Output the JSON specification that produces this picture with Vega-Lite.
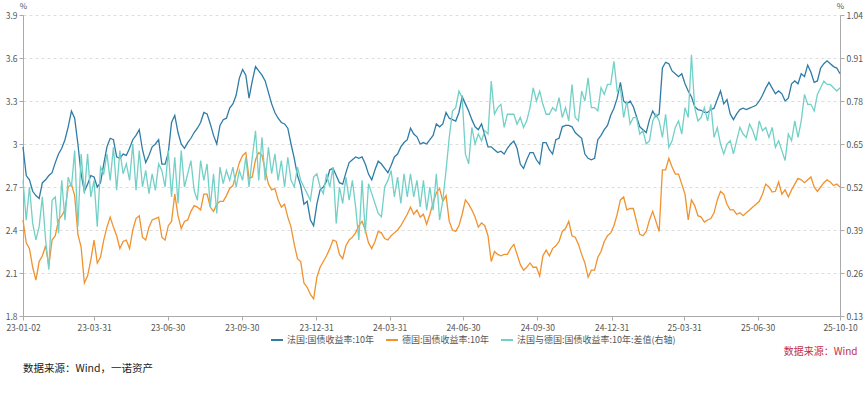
{
"$schema":"https://vega.github.io/schema/vega-lite/v6.json",
"width":817,"height":301,
"autosize":{"type":"none"},
"padding":{"left":23,"top":15,"right":25,"bottom":77},
"background":"#ffffff",
"config":{"view":{"stroke":null},"font":"Noto Sans CJK SC"},
"title":{"text":"数据来源：Wind，一诺资产","orient":"bottom","anchor":"start","fontSize":10.5,"fontWeight":"normal","color":"#222222","offset":8,"frame":"group"},
"datasets":{"d":[
{"date":"2023-01-02","fr":2.98,"de":2.47,"sp":0.54},
{"date":"2023-01-06","fr":2.78,"de":2.31,"sp":0.42},
{"date":"2023-01-10","fr":2.75,"de":2.27,"sp":0.52},
{"date":"2023-01-14","fr":2.67,"de":2.14,"sp":0.41},
{"date":"2023-01-18","fr":2.64,"de":2.05,"sp":0.36},
{"date":"2023-01-22","fr":2.62,"de":2.18,"sp":0.40},
{"date":"2023-01-26","fr":2.73,"de":2.22,"sp":0.49},
{"date":"2023-01-30","fr":2.75,"de":2.29,"sp":0.36},
{"date":"2023-02-03","fr":2.78,"de":2.15,"sp":0.27},
{"date":"2023-02-07","fr":2.80,"de":2.33,"sp":0.48},
{"date":"2023-02-11","fr":2.87,"de":2.36,"sp":0.49},
{"date":"2023-02-15","fr":2.93,"de":2.47,"sp":0.38},
{"date":"2023-02-19","fr":2.97,"de":2.50,"sp":0.54},
{"date":"2023-02-23","fr":3.03,"de":2.54,"sp":0.42},
{"date":"2023-02-27","fr":3.12,"de":2.70,"sp":0.55},
{"date":"2023-03-03","fr":3.23,"de":2.72,"sp":0.52},
{"date":"2023-03-07","fr":3.18,"de":2.64,"sp":0.63},
{"date":"2023-03-11","fr":3.00,"de":2.37,"sp":0.40},
{"date":"2023-03-15","fr":2.79,"de":2.28,"sp":0.62},
{"date":"2023-03-19","fr":2.67,"de":2.03,"sp":0.50},
{"date":"2023-03-23","fr":2.72,"de":2.08,"sp":0.62},
{"date":"2023-03-27","fr":2.78,"de":2.19,"sp":0.49},
{"date":"2023-03-31","fr":2.77,"de":2.33,"sp":0.54},
{"date":"2023-04-04","fr":2.70,"de":2.17,"sp":0.40},
{"date":"2023-04-08","fr":2.73,"de":2.21,"sp":0.58},
{"date":"2023-04-12","fr":2.86,"de":2.33,"sp":0.56},
{"date":"2023-04-16","fr":2.98,"de":2.42,"sp":0.62},
{"date":"2023-04-20","fr":3.04,"de":2.49,"sp":0.54},
{"date":"2023-04-24","fr":3.03,"de":2.42,"sp":0.64},
{"date":"2023-04-28","fr":2.91,"de":2.36,"sp":0.51},
{"date":"2023-05-02","fr":2.90,"de":2.27,"sp":0.63},
{"date":"2023-05-06","fr":2.93,"de":2.32,"sp":0.56},
{"date":"2023-05-10","fr":2.92,"de":2.33,"sp":0.59},
{"date":"2023-05-14","fr":2.97,"de":2.27,"sp":0.54},
{"date":"2023-05-18","fr":3.03,"de":2.40,"sp":0.65},
{"date":"2023-05-22","fr":3.06,"de":2.48,"sp":0.51},
{"date":"2023-05-26","fr":3.10,"de":2.50,"sp":0.63},
{"date":"2023-05-30","fr":2.96,"de":2.35,"sp":0.52},
{"date":"2023-06-03","fr":2.87,"de":2.33,"sp":0.57},
{"date":"2023-06-07","fr":2.92,"de":2.42,"sp":0.50},
{"date":"2023-06-11","fr":2.98,"de":2.47,"sp":0.56},
{"date":"2023-06-15","fr":3.00,"de":2.48,"sp":0.51},
{"date":"2023-06-19","fr":3.03,"de":2.49,"sp":0.59},
{"date":"2023-06-23","fr":2.86,"de":2.35,"sp":0.57},
{"date":"2023-06-27","fr":2.86,"de":2.33,"sp":0.52},
{"date":"2023-07-01","fr":2.94,"de":2.43,"sp":0.63},
{"date":"2023-07-05","fr":3.15,"de":2.46,"sp":0.49},
{"date":"2023-07-09","fr":3.20,"de":2.65,"sp":0.61},
{"date":"2023-07-13","fr":3.08,"de":2.50,"sp":0.47},
{"date":"2023-07-17","fr":3.00,"de":2.41,"sp":0.63},
{"date":"2023-07-21","fr":2.97,"de":2.46,"sp":0.52},
{"date":"2023-07-25","fr":3.01,"de":2.47,"sp":0.56},
{"date":"2023-07-29","fr":3.04,"de":2.53,"sp":0.60},
{"date":"2023-08-02","fr":3.08,"de":2.57,"sp":0.51},
{"date":"2023-08-06","fr":3.11,"de":2.56,"sp":0.48},
{"date":"2023-08-10","fr":3.15,"de":2.54,"sp":0.60},
{"date":"2023-08-14","fr":3.22,"de":2.65,"sp":0.54},
{"date":"2023-08-18","fr":3.21,"de":2.65,"sp":0.59},
{"date":"2023-08-22","fr":3.14,"de":2.56,"sp":0.46},
{"date":"2023-08-26","fr":3.06,"de":2.53,"sp":0.56},
{"date":"2023-08-30","fr":3.00,"de":2.58,"sp":0.44},
{"date":"2023-09-03","fr":3.13,"de":2.60,"sp":0.58},
{"date":"2023-09-07","fr":3.17,"de":2.60,"sp":0.53},
{"date":"2023-09-11","fr":3.18,"de":2.64,"sp":0.57},
{"date":"2023-09-15","fr":3.25,"de":2.69,"sp":0.54},
{"date":"2023-09-19","fr":3.28,"de":2.71,"sp":0.58},
{"date":"2023-09-23","fr":3.34,"de":2.79,"sp":0.52},
{"date":"2023-09-27","fr":3.46,"de":2.87,"sp":0.57},
{"date":"2023-10-01","fr":3.52,"de":2.92,"sp":0.54},
{"date":"2023-10-05","fr":3.48,"de":2.94,"sp":0.61},
{"date":"2023-10-09","fr":3.32,"de":2.76,"sp":0.52},
{"date":"2023-10-13","fr":3.44,"de":2.77,"sp":0.61},
{"date":"2023-10-17","fr":3.54,"de":2.89,"sp":0.69},
{"date":"2023-10-21","fr":3.51,"de":2.94,"sp":0.54},
{"date":"2023-10-25","fr":3.48,"de":2.92,"sp":0.67},
{"date":"2023-10-29","fr":3.44,"de":2.82,"sp":0.54},
{"date":"2023-11-02","fr":3.36,"de":2.72,"sp":0.64},
{"date":"2023-11-06","fr":3.28,"de":2.68,"sp":0.56},
{"date":"2023-11-10","fr":3.22,"de":2.69,"sp":0.62},
{"date":"2023-11-14","fr":3.18,"de":2.61,"sp":0.54},
{"date":"2023-11-18","fr":3.15,"de":2.56,"sp":0.60},
{"date":"2023-11-22","fr":3.14,"de":2.58,"sp":0.52},
{"date":"2023-11-26","fr":3.11,"de":2.49,"sp":0.61},
{"date":"2023-11-30","fr":3.00,"de":2.42,"sp":0.54},
{"date":"2023-12-04","fr":2.90,"de":2.30,"sp":0.52},
{"date":"2023-12-08","fr":2.78,"de":2.20,"sp":0.58},
{"date":"2023-12-12","fr":2.71,"de":2.18,"sp":0.54},
{"date":"2023-12-16","fr":2.58,"de":2.03,"sp":0.52},
{"date":"2023-12-20","fr":2.60,"de":2.00,"sp":0.50},
{"date":"2023-12-24","fr":2.47,"de":1.95,"sp":0.48},
{"date":"2023-12-28","fr":2.43,"de":1.92,"sp":0.55},
{"date":"2024-01-01","fr":2.58,"de":2.07,"sp":0.56},
{"date":"2024-01-05","fr":2.68,"de":2.14,"sp":0.52},
{"date":"2024-01-09","fr":2.70,"de":2.18,"sp":0.50},
{"date":"2024-01-13","fr":2.74,"de":2.22,"sp":0.56},
{"date":"2024-01-17","fr":2.82,"de":2.27,"sp":0.52},
{"date":"2024-01-21","fr":2.83,"de":2.33,"sp":0.58},
{"date":"2024-01-25","fr":2.78,"de":2.32,"sp":0.41},
{"date":"2024-01-29","fr":2.73,"de":2.23,"sp":0.52},
{"date":"2024-02-02","fr":2.72,"de":2.20,"sp":0.47},
{"date":"2024-02-06","fr":2.80,"de":2.29,"sp":0.55},
{"date":"2024-02-10","fr":2.87,"de":2.33,"sp":0.48},
{"date":"2024-02-14","fr":2.89,"de":2.35,"sp":0.54},
{"date":"2024-02-18","fr":2.91,"de":2.38,"sp":0.46},
{"date":"2024-02-22","fr":2.90,"de":2.43,"sp":0.36},
{"date":"2024-02-26","fr":2.91,"de":2.46,"sp":0.54},
{"date":"2024-03-01","fr":2.86,"de":2.40,"sp":0.38},
{"date":"2024-03-05","fr":2.79,"de":2.31,"sp":0.53},
{"date":"2024-03-09","fr":2.75,"de":2.27,"sp":0.50},
{"date":"2024-03-13","fr":2.82,"de":2.32,"sp":0.47},
{"date":"2024-03-17","fr":2.88,"de":2.39,"sp":0.44},
{"date":"2024-03-21","fr":2.86,"de":2.38,"sp":0.43},
{"date":"2024-03-25","fr":2.83,"de":2.34,"sp":0.52},
{"date":"2024-03-29","fr":2.80,"de":2.33,"sp":0.54},
{"date":"2024-04-02","fr":2.85,"de":2.36,"sp":0.57},
{"date":"2024-04-06","fr":2.91,"de":2.38,"sp":0.49},
{"date":"2024-04-10","fr":2.93,"de":2.40,"sp":0.55},
{"date":"2024-04-14","fr":2.98,"de":2.43,"sp":0.47},
{"date":"2024-04-18","fr":3.01,"de":2.47,"sp":0.56},
{"date":"2024-04-22","fr":3.03,"de":2.51,"sp":0.49},
{"date":"2024-04-26","fr":3.11,"de":2.56,"sp":0.56},
{"date":"2024-04-30","fr":3.07,"de":2.51,"sp":0.49},
{"date":"2024-05-04","fr":3.05,"de":2.54,"sp":0.54},
{"date":"2024-05-08","fr":3.00,"de":2.49,"sp":0.46},
{"date":"2024-05-12","fr":3.01,"de":2.51,"sp":0.54},
{"date":"2024-05-16","fr":3.00,"de":2.44,"sp":0.45},
{"date":"2024-05-20","fr":3.03,"de":2.51,"sp":0.52},
{"date":"2024-05-24","fr":3.06,"de":2.59,"sp":0.45},
{"date":"2024-05-28","fr":3.14,"de":2.66,"sp":0.56},
{"date":"2024-06-01","fr":3.12,"de":2.69,"sp":0.42},
{"date":"2024-06-05","fr":3.14,"de":2.60,"sp":0.48},
{"date":"2024-06-09","fr":3.22,"de":2.64,"sp":0.57},
{"date":"2024-06-13","fr":3.18,"de":2.46,"sp":0.67},
{"date":"2024-06-17","fr":3.17,"de":2.40,"sp":0.75},
{"date":"2024-06-21","fr":3.16,"de":2.39,"sp":0.76},
{"date":"2024-06-25","fr":3.22,"de":2.43,"sp":0.81},
{"date":"2024-06-29","fr":3.33,"de":2.51,"sp":0.79},
{"date":"2024-07-03","fr":3.28,"de":2.61,"sp":0.62},
{"date":"2024-07-07","fr":3.23,"de":2.58,"sp":0.59},
{"date":"2024-07-11","fr":3.17,"de":2.54,"sp":0.70},
{"date":"2024-07-15","fr":3.12,"de":2.49,"sp":0.65},
{"date":"2024-07-19","fr":3.10,"de":2.42,"sp":0.68},
{"date":"2024-07-23","fr":3.14,"de":2.45,"sp":0.66},
{"date":"2024-07-27","fr":3.06,"de":2.43,"sp":0.69},
{"date":"2024-07-31","fr":2.98,"de":2.36,"sp":0.68},
{"date":"2024-08-04","fr":2.98,"de":2.18,"sp":0.84},
{"date":"2024-08-08","fr":2.96,"de":2.25,"sp":0.74},
{"date":"2024-08-12","fr":2.94,"de":2.23,"sp":0.76},
{"date":"2024-08-16","fr":2.95,"de":2.22,"sp":0.77},
{"date":"2024-08-20","fr":2.93,"de":2.23,"sp":0.70},
{"date":"2024-08-24","fr":2.97,"de":2.23,"sp":0.74},
{"date":"2024-08-28","fr":3.00,"de":2.27,"sp":0.74},
{"date":"2024-09-01","fr":3.02,"de":2.30,"sp":0.74},
{"date":"2024-09-05","fr":2.97,"de":2.23,"sp":0.71},
{"date":"2024-09-09","fr":2.86,"de":2.16,"sp":0.73},
{"date":"2024-09-13","fr":2.83,"de":2.12,"sp":0.70},
{"date":"2024-09-17","fr":2.89,"de":2.14,"sp":0.72},
{"date":"2024-09-21","fr":2.94,"de":2.17,"sp":0.76},
{"date":"2024-09-25","fr":2.94,"de":2.14,"sp":0.82},
{"date":"2024-09-29","fr":2.89,"de":2.14,"sp":0.78},
{"date":"2024-10-03","fr":2.86,"de":2.08,"sp":0.81},
{"date":"2024-10-07","fr":3.01,"de":2.22,"sp":0.77},
{"date":"2024-10-11","fr":3.01,"de":2.26,"sp":0.74},
{"date":"2024-10-15","fr":2.96,"de":2.22,"sp":0.74},
{"date":"2024-10-19","fr":2.93,"de":2.27,"sp":0.76},
{"date":"2024-10-23","fr":3.03,"de":2.29,"sp":0.75},
{"date":"2024-10-27","fr":3.04,"de":2.32,"sp":0.79},
{"date":"2024-10-31","fr":3.12,"de":2.39,"sp":0.73},
{"date":"2024-11-04","fr":3.13,"de":2.41,"sp":0.76},
{"date":"2024-11-08","fr":3.13,"de":2.46,"sp":0.72},
{"date":"2024-11-12","fr":3.12,"de":2.36,"sp":0.83},
{"date":"2024-11-16","fr":3.08,"de":2.35,"sp":0.73},
{"date":"2024-11-20","fr":3.06,"de":2.30,"sp":0.72},
{"date":"2024-11-24","fr":3.04,"de":2.23,"sp":0.81},
{"date":"2024-11-28","fr":2.93,"de":2.17,"sp":0.78},
{"date":"2024-12-02","fr":2.90,"de":2.07,"sp":0.85},
{"date":"2024-12-06","fr":2.89,"de":2.12,"sp":0.76},
{"date":"2024-12-10","fr":2.90,"de":2.12,"sp":0.76},
{"date":"2024-12-14","fr":3.03,"de":2.21,"sp":0.75},
{"date":"2024-12-18","fr":3.06,"de":2.25,"sp":0.82},
{"date":"2024-12-22","fr":3.10,"de":2.32,"sp":0.80},
{"date":"2024-12-26","fr":3.13,"de":2.36,"sp":0.83},
{"date":"2024-12-30","fr":3.20,"de":2.38,"sp":0.83},
{"date":"2025-01-03","fr":3.25,"de":2.43,"sp":0.90},
{"date":"2025-01-07","fr":3.32,"de":2.51,"sp":0.81},
{"date":"2025-01-11","fr":3.43,"de":2.61,"sp":0.82},
{"date":"2025-01-15","fr":3.30,"de":2.63,"sp":0.73},
{"date":"2025-01-19","fr":3.28,"de":2.54,"sp":0.78},
{"date":"2025-01-23","fr":3.30,"de":2.55,"sp":0.71},
{"date":"2025-01-27","fr":3.26,"de":2.55,"sp":0.73},
{"date":"2025-01-31","fr":3.19,"de":2.46,"sp":0.73},
{"date":"2025-02-04","fr":3.12,"de":2.37,"sp":0.68},
{"date":"2025-02-08","fr":3.10,"de":2.36,"sp":0.69},
{"date":"2025-02-12","fr":3.08,"de":2.39,"sp":0.65},
{"date":"2025-02-16","fr":3.17,"de":2.47,"sp":0.66},
{"date":"2025-02-20","fr":3.23,"de":2.53,"sp":0.72},
{"date":"2025-02-24","fr":3.19,"de":2.46,"sp":0.74},
{"date":"2025-02-28","fr":3.21,"de":2.39,"sp":0.72},
{"date":"2025-03-04","fr":3.53,"de":2.82,"sp":0.67},
{"date":"2025-03-08","fr":3.57,"de":2.82,"sp":0.74},
{"date":"2025-03-12","fr":3.56,"de":2.90,"sp":0.64},
{"date":"2025-03-16","fr":3.51,"de":2.84,"sp":0.66},
{"date":"2025-03-20","fr":3.49,"de":2.79,"sp":0.70},
{"date":"2025-03-24","fr":3.47,"de":2.79,"sp":0.72},
{"date":"2025-03-28","fr":3.49,"de":2.72,"sp":0.68},
{"date":"2025-04-01","fr":3.42,"de":2.65,"sp":0.76},
{"date":"2025-04-05","fr":3.37,"de":2.47,"sp":0.73},
{"date":"2025-04-09","fr":3.33,"de":2.61,"sp":0.92},
{"date":"2025-04-13","fr":3.26,"de":2.57,"sp":0.76},
{"date":"2025-04-17","fr":3.24,"de":2.50,"sp":0.72},
{"date":"2025-04-21","fr":3.235,"de":2.49,"sp":0.73},
{"date":"2025-04-25","fr":3.22,"de":2.455,"sp":0.76},
{"date":"2025-04-29","fr":3.22,"de":2.47,"sp":0.72},
{"date":"2025-05-03","fr":3.24,"de":2.48,"sp":0.77},
{"date":"2025-05-07","fr":3.25,"de":2.52,"sp":0.67},
{"date":"2025-05-11","fr":3.31,"de":2.61,"sp":0.70},
{"date":"2025-05-15","fr":3.37,"de":2.67,"sp":0.65},
{"date":"2025-05-19","fr":3.28,"de":2.65,"sp":0.62},
{"date":"2025-05-23","fr":3.31,"de":2.58,"sp":0.65},
{"date":"2025-05-27","fr":3.21,"de":2.54,"sp":0.66},
{"date":"2025-05-31","fr":3.17,"de":2.54,"sp":0.62},
{"date":"2025-06-04","fr":3.21,"de":2.51,"sp":0.66},
{"date":"2025-06-08","fr":3.24,"de":2.52,"sp":0.70},
{"date":"2025-06-12","fr":3.25,"de":2.50,"sp":0.68},
{"date":"2025-06-16","fr":3.24,"de":2.52,"sp":0.67},
{"date":"2025-06-20","fr":3.25,"de":2.54,"sp":0.71},
{"date":"2025-06-24","fr":3.26,"de":2.56,"sp":0.69},
{"date":"2025-06-28","fr":3.27,"de":2.58,"sp":0.66},
{"date":"2025-07-02","fr":3.30,"de":2.60,"sp":0.72},
{"date":"2025-07-06","fr":3.34,"de":2.65,"sp":0.69},
{"date":"2025-07-10","fr":3.39,"de":2.72,"sp":0.70},
{"date":"2025-07-14","fr":3.43,"de":2.70,"sp":0.67},
{"date":"2025-07-18","fr":3.39,"de":2.665,"sp":0.70},
{"date":"2025-07-22","fr":3.35,"de":2.67,"sp":0.64},
{"date":"2025-07-26","fr":3.37,"de":2.735,"sp":0.66},
{"date":"2025-07-30","fr":3.35,"de":2.65,"sp":0.63},
{"date":"2025-08-03","fr":3.30,"de":2.68,"sp":0.60},
{"date":"2025-08-07","fr":3.32,"de":2.63,"sp":0.68},
{"date":"2025-08-11","fr":3.42,"de":2.68,"sp":0.66},
{"date":"2025-08-15","fr":3.44,"de":2.72,"sp":0.72},
{"date":"2025-08-19","fr":3.42,"de":2.76,"sp":0.67},
{"date":"2025-08-23","fr":3.49,"de":2.75,"sp":0.72},
{"date":"2025-08-27","fr":3.47,"de":2.73,"sp":0.80},
{"date":"2025-08-31","fr":3.55,"de":2.75,"sp":0.77},
{"date":"2025-09-04","fr":3.50,"de":2.77,"sp":0.77},
{"date":"2025-09-08","fr":3.43,"de":2.70,"sp":0.75},
{"date":"2025-09-12","fr":3.44,"de":2.67,"sp":0.80},
{"date":"2025-09-16","fr":3.53,"de":2.70,"sp":0.82},
{"date":"2025-09-20","fr":3.56,"de":2.73,"sp":0.84},
{"date":"2025-09-24","fr":3.58,"de":2.75,"sp":0.83},
{"date":"2025-09-28","fr":3.56,"de":2.735,"sp":0.83},
{"date":"2025-10-02","fr":3.54,"de":2.71,"sp":0.82},
{"date":"2025-10-06","fr":3.53,"de":2.72,"sp":0.81},
{"date":"2025-10-10","fr":3.49,"de":2.70,"sp":0.82}
]},
"data":{"name":"d"},
"encoding":{
"x":{"field":"date","type":"temporal",
 "scale":{"type":"utc","domain":[{"year":2023,"month":1,"date":2,"utc":true},{"year":2025,"month":10,"date":10,"utc":true}]},
 "axis":{"values":[
  {"year":2023,"month":1,"date":2,"utc":true},{"year":2023,"month":3,"date":31,"utc":true},{"year":2023,"month":6,"date":30,"utc":true},{"year":2023,"month":9,"date":30,"utc":true},{"year":2023,"month":12,"date":31,"utc":true},{"year":2024,"month":3,"date":31,"utc":true},{"year":2024,"month":6,"date":30,"utc":true},{"year":2024,"month":9,"date":30,"utc":true},{"year":2024,"month":12,"date":31,"utc":true},{"year":2025,"month":3,"date":31,"utc":true},{"year":2025,"month":6,"date":30,"utc":true},{"year":2025,"month":10,"date":10,"utc":true}],
  "labelExpr":"utcFormat(datum.value, '%y-%m-%d')",
  "labelOverlap":false,"labelFlush":false,"grid":false,
  "domainColor":"#aaaaaa","tickColor":"#aaaaaa","tickSize":4,
  "labelFontSize":8.5,"labelColor":"#555555","labelPadding":3,
  "title":"数据来源：Wind","titleColor":"#c0304a","titleFontSize":10,"titleFontWeight":"normal",
  "titleAnchor":"end","titleAlign":"right","titleBaseline":"middle","titleX":834,"titleY":35}}
},
"layer":[
 {"layer":[
   {"mark":{"type":"line","strokeWidth":1.3},
    "encoding":{"y":{"field":"fr","type":"quantitative","scale":{"domain":[1.8,3.9],"nice":false,"zero":false},
      "axis":{"orient":"left","values":[1.8,2.1,2.4,2.7,3,3.3,3.6,3.9],"format":".2~f","grid":true,"gridDash":[3,3],"gridColor":"#dddddd",
        "domainColor":"#aaaaaa","tickColor":"#aaaaaa","tickSize":4,"labelFontSize":8.5,"labelColor":"#555555","labelPadding":2,
        "title":"%","titleAngle":0,"titleX":0,"titleY":-9,"titleAlign":"center","titleBaseline":"middle","titleFontSize":8,"titleFontWeight":"normal","titleColor":"#555555"}},
     "color":{"datum":"法国:国债收益率:10年","type":"nominal",
       "scale":{"domain":["法国:国债收益率:10年","德国:国债收益率:10年","法国与德国:国债收益率:10年:差值(右轴)"],"range":["#2f7ca6","#f0922e","#72d0c6"]},
       "legend":{"orient":"none","legendX":247,"legendY":318,"direction":"horizontal","title":null,"symbolType":"stroke","symbolSize":144,"symbolStrokeWidth":2,
         "labelFontSize":9,"labelColor":"#555555","columnPadding":8,"labelOffset":3}}}},
   {"mark":{"type":"line","strokeWidth":1.3},
    "encoding":{"y":{"field":"de","type":"quantitative"},
     "color":{"datum":"德国:国债收益率:10年","type":"nominal"}}}
 ]},
 {"mark":{"type":"line","strokeWidth":1.3},
  "encoding":{"y":{"field":"sp","type":"quantitative","scale":{"domain":[0.13,1.04],"nice":false,"zero":false},
     "axis":{"orient":"right","values":[0.13,0.26,0.39,0.52,0.65,0.78,0.91,1.04],"format":".2f","grid":false,
       "domainColor":"#aaaaaa","tickColor":"#aaaaaa","tickSize":4,"labelFontSize":8.5,"labelColor":"#555555","labelPadding":2,
       "title":"%","titleAngle":0,"titleX":0,"titleY":-9,"titleAlign":"center","titleBaseline":"middle","titleFontSize":8,"titleFontWeight":"normal","titleColor":"#555555"}},
   "color":{"datum":"法国与德国:国债收益率:10年:差值(右轴)","type":"nominal"}}}
],
"resolve":{"scale":{"y":"independent"}}
}
